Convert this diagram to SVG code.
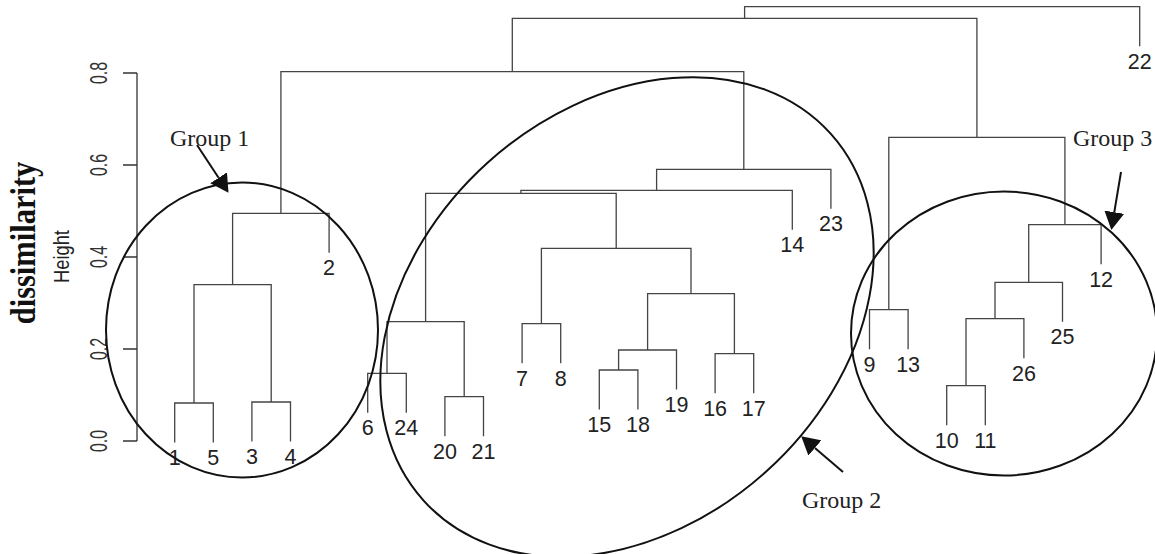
<svg xmlns="http://www.w3.org/2000/svg" width="1155" height="554" viewBox="0 0 1155 554">
<style>
.bg{fill:#ffffff}
.dl{fill:none;stroke:#444;stroke-width:1.3}
.ax{fill:none;stroke:#333;stroke-width:1.3}
.lb{font-family:"Liberation Sans",Arial,sans-serif;font-size:21.5px;fill:#222;text-anchor:middle}
.tk{font-family:"Liberation Sans",Arial,sans-serif;font-size:16px;fill:#333;text-anchor:middle}
.ht{font-family:"Liberation Sans",Arial,sans-serif;font-size:18.3px;fill:#222;text-anchor:middle}
.ds{font-family:"Liberation Serif","Times New Roman",serif;font-size:30.5px;font-weight:bold;fill:#111;text-anchor:middle}
.gl{font-family:"Liberation Serif","Times New Roman",serif;font-size:24px;fill:#222}
.el{fill:none;stroke:#111;stroke-width:2}
.ar{fill:none;stroke:#111;stroke-width:2}
</style>
<defs>
<marker id="head" markerUnits="userSpaceOnUse" markerWidth="18" markerHeight="20" viewBox="0 0 18 20" refX="0" refY="10" orient="auto">
<path d="M0,0 L18,10 L0,20 z" fill="#111"/>
</marker>
</defs>
<rect class="bg" x="0" y="0" width="1155" height="554"/>

<g id="axis">
<path class="ax" d="M137,73 V441 M123,441 H137 M123,349 H137 M123,257 H137 M123,165 H137 M123,73 H137"/>
<text class="tk" transform="translate(107,441) rotate(-90) scale(1,1.5)">0.0</text>
<text class="tk" transform="translate(107,349) rotate(-90) scale(1,1.5)">0.2</text>
<text class="tk" transform="translate(107,257) rotate(-90) scale(1,1.5)">0.4</text>
<text class="tk" transform="translate(107,165) rotate(-90) scale(1,1.5)">0.6</text>
<text class="tk" transform="translate(107,73) rotate(-90) scale(1,1.5)">0.8</text>
<text class="ht" transform="translate(68.5,256.5) rotate(-90) scale(1,1.2)">Height</text>
<text class="ds" transform="translate(35,243) rotate(-90) scale(1,1.2)">dissimilarity</text>
</g>

<g id="connectors">
<path class="dl" d="M174.7,442.5 V403 H213.3 V442.5"/>
<path class="dl" d="M251.9,441.5 V402 H290.5 V441.5"/>
<path class="dl" d="M194,403 V284.7 H271.2 V402"/>
<path class="dl" d="M232.6,284.7 V213.3 H329.1 V252.8"/>
<path class="dl" d="M367.7,412.8 V373.3 H406.3 V412.8"/>
<path class="dl" d="M444.9,436.2 V396.7 H483.5 V436.2"/>
<path class="dl" d="M387,373.3 V321.7 H464.2 V396.7"/>
<path class="dl" d="M522.1,363.2 V323.7 H560.7 V363.2"/>
<path class="dl" d="M599.3,409.5 V370 H637.9 V409.5"/>
<path class="dl" d="M618.6,370 V350 H676.5 V389.5"/>
<path class="dl" d="M715.1,393.2 V353.7 H753.7 V393.2"/>
<path class="dl" d="M647.6,350 V293.7 H734.4 V353.7"/>
<path class="dl" d="M541.4,323.7 V248.3 H691 V293.7"/>
<path class="dl" d="M425.6,321.7 V193.3 H616.2 V248.3"/>
<path class="dl" d="M520.9,193.3 V190.3 H792.3 V229.8"/>
<path class="dl" d="M656.6,190.3 V169.3 H830.9 V208.8"/>
<path class="dl" d="M280.9,213.3 V71.7 H743.8 V169.3"/>
<path class="dl" d="M869.5,349.2 V309.7 H908.1 V349.2"/>
<path class="dl" d="M946.7,425.2 V385.7 H985.3 V425.2"/>
<path class="dl" d="M966,385.7 V318.7 H1023.9 V358.2"/>
<path class="dl" d="M995,318.7 V282.3 H1062.5 V321.8"/>
<path class="dl" d="M1028.7,282.3 V224.7 H1101.1 V264.2"/>
<path class="dl" d="M888.8,309.7 V137.3 H1064.9 V224.7"/>
<path class="dl" d="M512.3,71.7 V18.3 H976.9 V137.3"/>
<path class="dl" d="M744.6,18.3 V6.7 H1139.7 V46.2"/>
<path class="ar" d="M197,145 L218.6,177.8" marker-end="url(#head)"/>
<path class="ar" d="M843,472 L814.9,448" marker-end="url(#head)"/>
<path class="ar" d="M1121,172 L1114.3,212.2" marker-end="url(#head)"/>
</g>

<g id="leaf-1"><text class="lb" x="174.7" y="465">1</text></g>
<g id="leaf-5"><text class="lb" x="213.3" y="465">5</text></g>
<g id="leaf-3"><text class="lb" x="251.9" y="464">3</text></g>
<g id="leaf-4"><text class="lb" x="290.5" y="464">4</text></g>
<g id="leaf-2"><text class="lb" x="329.1" y="275.3">2</text></g>
<g id="leaf-6"><text class="lb" x="367.7" y="435.3">6</text></g>
<g id="leaf-24"><text class="lb" x="406.3" y="435.3">24</text></g>
<g id="leaf-20"><text class="lb" x="444.9" y="458.7">20</text></g>
<g id="leaf-21"><text class="lb" x="483.5" y="458.7">21</text></g>
<g id="leaf-7"><text class="lb" x="522.1" y="385.7">7</text></g>
<g id="leaf-8"><text class="lb" x="560.7" y="385.7">8</text></g>
<g id="leaf-15"><text class="lb" x="599.3" y="432">15</text></g>
<g id="leaf-18"><text class="lb" x="637.9" y="432">18</text></g>
<g id="leaf-19"><text class="lb" x="676.5" y="412">19</text></g>
<g id="leaf-16"><text class="lb" x="715.1" y="415.7">16</text></g>
<g id="leaf-17"><text class="lb" x="753.7" y="415.7">17</text></g>
<g id="leaf-14"><text class="lb" x="792.3" y="252.3">14</text></g>
<g id="leaf-23"><text class="lb" x="830.9" y="231.3">23</text></g>
<g id="leaf-9"><text class="lb" x="869.5" y="371.7">9</text></g>
<g id="leaf-13"><text class="lb" x="908.1" y="371.7">13</text></g>
<g id="leaf-10"><text class="lb" x="946.7" y="447.7">10</text></g>
<g id="leaf-11"><text class="lb" x="985.3" y="447.7">11</text></g>
<g id="leaf-26"><text class="lb" x="1023.9" y="380.7">26</text></g>
<g id="leaf-25"><text class="lb" x="1062.5" y="344.3">25</text></g>
<g id="leaf-12"><text class="lb" x="1101.1" y="286.7">12</text></g>
<g id="leaf-22"><text class="lb" x="1139.7" y="68.7">22</text></g>

<g id="group-1">
<ellipse class="el" cx="242" cy="330" rx="136" ry="147.5"/>
<text class="gl" x="170" y="146">Group 1</text>
</g>
<g id="group-2">
<ellipse class="el" cx="0" cy="0" rx="274" ry="208" transform="translate(627,317) rotate(-42)"/>
<text class="gl" x="802" y="508">Group 2</text>
</g>
<g id="group-3">
<ellipse class="el" cx="1004" cy="333.5" rx="153" ry="142"/>
<text class="gl" x="1073" y="146">Group 3</text>
</g>
</svg>
